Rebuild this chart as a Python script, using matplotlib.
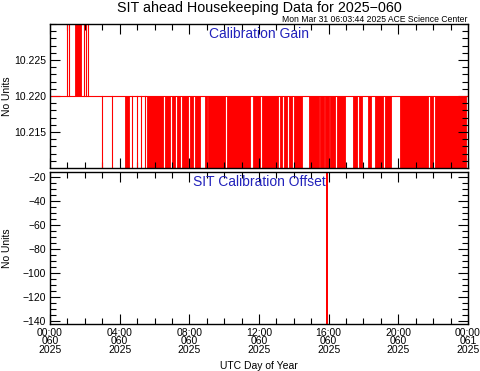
import matplotlib
matplotlib.use("Agg")
import matplotlib.pyplot as plt
import numpy as np

plt.rcParams['font.family'] = ['Liberation Sans', 'DejaVu Sans']

# x axis (hours of day 060)
hour_ticks = [0, 4, 8, 12, 16, 20, 24]
hour_labels = ["00:00\n060\n2025", "04:00\n060\n2025", "08:00\n060\n2025",
               "12:00\n060\n2025", "16:00\n060\n2025", "20:00\n060\n2025",
               "00:00\n061\n2025"]

# calibration gain: nominal level, single glitches and dense toggling periods (hours)
gain_base = 10.220
gain_high = 10.240
gain_low = 10.200
gain_up_spikes = [0.98, 1.09, 1.95, 2.05, 2.16]
gain_up_blocks = [(1.42, 1.80)]
gain_down_spikes = [3.01, 3.56, 4.71, 5.00, 5.25, 5.45]
gain_down_blocks = [(4.33, 4.56), (5.57, 6.49), (6.60, 6.89), (7.00, 7.18), (7.29, 7.46),
                    (7.58, 7.92), (8.04, 8.21), (8.33, 8.61), (8.90, 9.01), (9.07, 10.05),
                    (10.16, 11.48), (11.66, 12.06), (12.17, 13.09), (13.21, 13.32),
                    (13.44, 13.61), (13.72, 13.89), (14.01, 14.47), (14.87, 15.44),
                    (15.50, 15.73), (15.79, 16.02), (16.08, 16.36), (16.48, 16.94),
                    (17.40, 17.63), (17.74, 17.91), (18.26, 18.43), (18.66, 19.12),
                    (19.23, 19.58), (20.10, 21.70), (21.82, 21.99), (22.10, 23.88)]

# calibration offset
offset_times = [0.0, 15.89, 15.90, 15.91, 24.0]
offset_values = [-15.7, -15.7, -142.6, -15.7, -15.7]

red = '#ff0000'
blue = '#2222bb'

fig = plt.figure(figsize=(4.81, 3.71), dpi=100)
ax1 = fig.add_axes([50/481, 1-168/371, 418/481, 144/371])
ax2 = fig.add_axes([50/481, 1-324/371, 418/481, 152/371])

# top panel
ax1.plot([0, 24], [gain_base, gain_base], color=red, lw=0.8)
for t in gain_up_spikes:
    ax1.plot([t, t], [gain_base, gain_high], color=red, lw=0.8)
for t in gain_down_spikes:
    ax1.plot([t, t], [gain_low, gain_base], color=red, lw=0.8)
for a, b in gain_up_blocks:
    ax1.fill_between([a, b], gain_base, gain_high, color=red, lw=0.6)
for a, b in gain_down_blocks:
    ax1.fill_between([a, b], gain_low, gain_base, color=red, lw=0.6)
ax1.set_xlim(0, 24)
ax1.set_ylim(10.210, 10.230)
ax1.set_yticks([10.215, 10.220, 10.225])
ax1.set_yticklabels(['10.215', '10.220', '10.225'])
ax1.set_yticks(np.arange(10.211, 10.230, 0.001), minor=True)
ax1.set_xticks(hour_ticks)
ax1.set_xticks(range(25), minor=True)
ax1.set_xticklabels([])
ax1.set_ylabel("No Units", fontsize=7.5, va='center')
ax1.yaxis.set_label_coords(-43/418, 0.5)
ax1.text(0.5, 0.93, "Calibration Gain", transform=ax1.transAxes, ha='center', va='center',
         color=blue, fontsize=10)

# bottom panel
ax2.plot(offset_times, offset_values, color=red, lw=0.9)
ax2.set_xlim(0, 24)
ax2.set_ylim(-142.5, -15.5)
ax2.set_yticks([-140, -120, -100, -80, -60, -40, -20])
ax2.set_yticklabels(['\u2212140', '\u2212120', '\u2212100', '\u221280', '\u221260', '\u221240', '\u221220'])
ax2.set_yticks(np.arange(-140, -15, 5), minor=True)
ax2.set_xticks(hour_ticks)
ax2.set_xticklabels(hour_labels)
ax2.set_xticks(range(25), minor=True)
for lab in ax2.get_xticklabels():
    lab.set_linespacing(0.78)
ax2.set_ylabel("No Units", fontsize=7.5, va='center')
ax2.yaxis.set_label_coords(-43/418, 0.5)
ax2.set_xlabel("UTC Day of Year", fontsize=7.5, va='center')
ax2.xaxis.set_label_coords(0.5, (324 - 366) / 152)
ax2.text(0.5, 0.934, "SIT Calibration Offset", transform=ax2.transAxes, ha='center', va='center',
         color=blue, fontsize=10)

for ax in (ax1, ax2):
    ax.tick_params(which='both', direction='in', top=True, right=True, labelsize=7.5,
                   width=0.8, color='black')
    ax.tick_params(which='major', length=7, pad=3)
    ax.tick_params(which='minor', length=4)
    for s in ax.spines.values():
        s.set_linewidth(1.0)

fig.text(259/481, 1-12/371, "SIT ahead Housekeeping Data for 2025\u2212060", ha='center', va='baseline',
         fontsize=10.3)
fig.text(468/481, 1-22/371, "Mon Mar 31 06:03:44 2025 ACE Science Center", ha='right', va='baseline',
         fontsize=6.2)

fig.savefig("out.png", dpi=100)
